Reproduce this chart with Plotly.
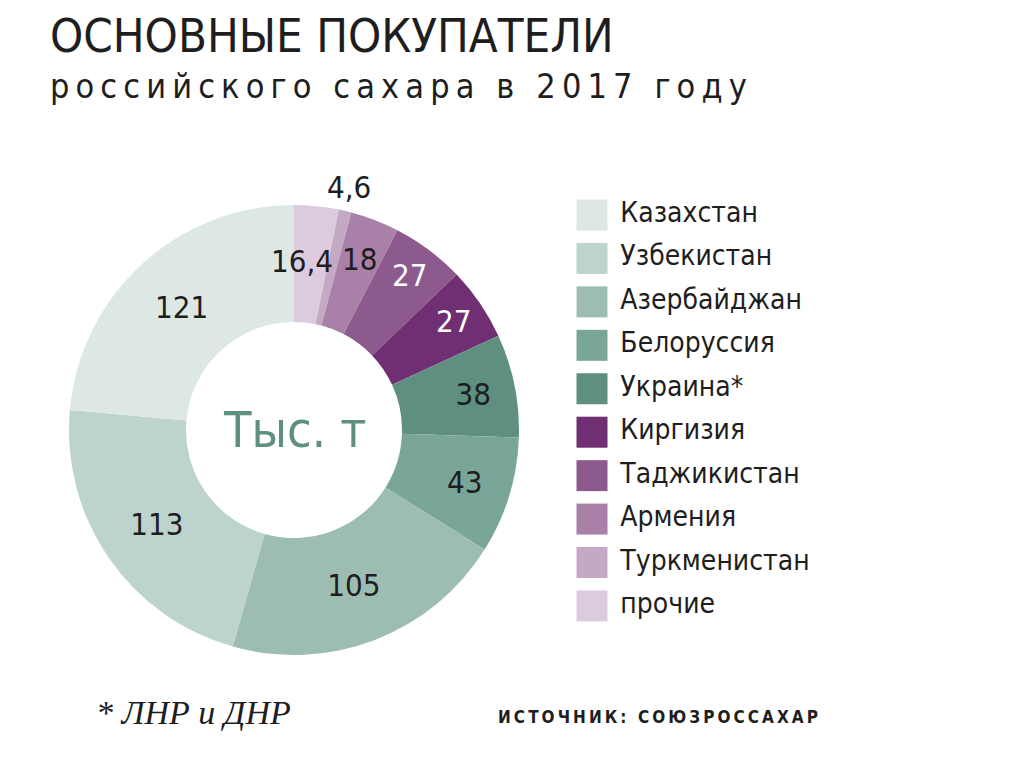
import plotly.graph_objects as go

countries = ["Казахстан", "Узбекистан", "Азербайджан", "Белоруссия", "Украина*",
             "Киргизия", "Таджикистан", "Армения", "Туркменистан", "прочие"]
values = [121, 113, 105, 43, 38, 27, 27, 18, 4.6, 16.4]
value_labels = ["121", "113", "105", "43", "38", "27", "27", "18", "4,6", "16,4"]
colors = ["#dde8e4", "#bdd3cd", "#9dbdb3", "#7aa69a", "#5e8f80",
          "#6f2f72", "#8d5a8e", "#a981a8", "#c4a8c4", "#dccbde"]
text_colors = ["#1e1e1e", "#1e1e1e", "#1e1e1e", "#1e1e1e", "#1e1e1e",
               "#ffffff", "#ffffff", "#1e1e1e", "#1e1e1e", "#1e1e1e"]

FONT = "Liberation Sans Narrow, DejaVu Sans Condensed, Arial Narrow, sans-serif"

small = {"4,6", "16,4", "18"}
pie_text = ["" if t in small else t for t in value_labels]

W, H = 1024, 757
cx, cy, R = 294, 430, 225

# pie drawn clockwise from 12 o'clock in reverse legend order
fig = go.Figure()
fig.add_trace(go.Pie(
    labels=countries[::-1], values=values[::-1], text=pie_text[::-1],
    textinfo="text", texttemplate="%{text}",
    textposition="inside", insidetextorientation="horizontal",
    textfont=dict(family=FONT, size=31, color=text_colors[::-1]),
    marker=dict(colors=colors[::-1], line=dict(width=0)),
    sort=False, direction="clockwise", rotation=0,
    hole=0.48, showlegend=False,
    domain=dict(x=[(cx - R) / W, (cx + R) / W], y=[1 - (cy + R) / H, 1 - (cy - R) / H]),
    hoverinfo="label+value",
))

# Legend drawn as a scatter of squares
idx = list(range(len(countries)))
fig.add_trace(go.Scatter(
    x=[592] * len(countries), y=idx, mode="markers+text",
    marker=dict(symbol="square", size=31, color=colors, line=dict(width=0)),
    text=[" " + c for c in countries], textposition="middle right",
    textfont=dict(family=FONT, size=28, color="#1e1e1e"),
    showlegend=False, hoverinfo="skip", cliponaxis=False,
))

step = 43.44
y0 = 215
fig.update_layout(
    width=W, height=H, margin=dict(l=0, r=0, t=0, b=0),
    paper_bgcolor="white", plot_bgcolor="rgba(0,0,0,0)",
    xaxis=dict(range=[0, W], domain=[0, 1], visible=False, fixedrange=True),
    yaxis=dict(range=[(H - y0) / step, -y0 / step], domain=[0, 1], visible=False, fixedrange=True),
    showlegend=False,
)

hs = "\u2009"
def spaced(s):
    return hs.join(list(s))

annotations = [
    dict(text="ОСНОВНЫЕ ПОКУПАТЕЛИ", x=48 / W, y=1 - 6 / H, xanchor="left", yanchor="top",
         font=dict(family=FONT, size=47, color="#1e1e1e")),
    dict(text=spaced("российского сахара в 2017 году"), x=48 / W, y=1 - 64 / H, xanchor="left", yanchor="top",
         font=dict(family=FONT, size=34, color="#1e1e1e")),
    dict(text="Тыс. т", x=cx / W, y=1 - cy / H, xanchor="center", yanchor="middle",
         font=dict(family=FONT, size=50, color="#5e8f80")),
    dict(text="4,6", x=349 / W, y=1 - 187 / H, xanchor="center", yanchor="middle",
         font=dict(family=FONT, size=31, color="#1e1e1e")),
    dict(text="16,4", x=302 / W, y=1 - 261 / H, xanchor="center", yanchor="middle",
         font=dict(family=FONT, size=31, color="#1e1e1e")),
    dict(text="18", x=359 / W, y=1 - 259 / H, xanchor="center", yanchor="middle",
         font=dict(family=FONT, size=31, color="#1e1e1e")),
    dict(text="<i>* ЛНР и ДНР</i>", x=94 / W, y=1 - 712 / H, xanchor="left", yanchor="middle",
         font=dict(family="Liberation Serif, DejaVu Serif, serif", size=34, color="#1e1e1e")),
    dict(text="<b>" + spaced("ИСТОЧНИК: СОЮЗРОССАХАР") + "</b>", x=820 / W, y=1 - 717 / H,
         xanchor="right", yanchor="middle",
         font=dict(family=FONT, size=17, color="#1e1e1e")),
]
for a in annotations:
    a.update(xref="paper", yref="paper", showarrow=False)
fig.update_layout(annotations=annotations)

fig.write_html("out.html")
